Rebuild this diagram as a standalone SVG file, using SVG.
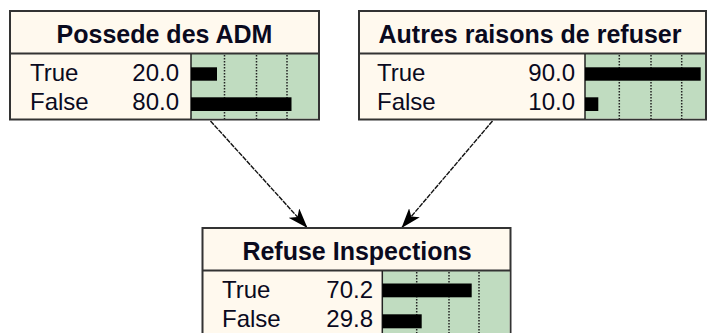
<svg xmlns="http://www.w3.org/2000/svg" width="707" height="333" viewBox="0 0 707 333">
<style>
.box{fill:#FFF9EE;stroke:#333;stroke-width:2}
.sep{stroke:#333;stroke-width:2;fill:none}
.green{fill:#C0DCC0}
.vline{stroke:#222;stroke-width:1.5}
.grid{stroke:#222;stroke-width:1.5;stroke-dasharray:1.5 1.5}
.bar{fill:#000}
.title{font-family:"Liberation Sans",Arial,sans-serif;font-weight:bold;font-size:25px;fill:#0a0a1e;text-anchor:middle}
.lbl{font-family:"Liberation Sans",Arial,sans-serif;font-size:24px;fill:#0a0a1e}
.num{font-family:"Liberation Sans",Arial,sans-serif;font-size:24px;fill:#0a0a1e;text-anchor:end}
.edge{stroke:#111;stroke-width:1.4;fill:none;stroke-dasharray:5 1}
</style>
<defs>
<marker id="ah" viewBox="0 0 20 14" refX="20" refY="7" markerWidth="20" markerHeight="14" markerUnits="userSpaceOnUse" orient="auto">
<path d="M0,0 L20,7 L0,14 L5,7 Z" fill="#000"/>
</marker>
</defs>
<rect width="707" height="333" fill="#fff"/>

<g id="connectors">
<line class="edge" x1="210.5" y1="121" x2="307.5" y2="228" marker-end="url(#ah)"/>
<line class="edge" x1="492.5" y1="121" x2="401.5" y2="228" marker-end="url(#ah)"/>
</g>

<g id="node-possede">
<rect class="box" x="10" y="11" width="309" height="108.5"/>
<rect class="green" x="191" y="54" width="127" height="64.5"/>
<line class="sep" x1="10" y1="53.5" x2="319" y2="53.5"/>
<line class="vline" x1="191" y1="54" x2="191" y2="119"/>
<line class="grid" x1="224.5" y1="55" x2="224.5" y2="119"/>
<line class="grid" x1="256.5" y1="55" x2="256.5" y2="119"/>
<line class="grid" x1="287" y1="55" x2="287" y2="119"/>
<rect class="bar" x="191" y="67.3" width="26" height="13.4"/>
<rect class="bar" x="191" y="97.3" width="100.5" height="13.7"/>
<text class="title" x="164.5" y="43">Possede des ADM</text>
<text class="lbl" x="30" y="81">True</text>
<text class="num" x="179" y="81">20.0</text>
<text class="lbl" x="30" y="110">False</text>
<text class="num" x="179" y="110">80.0</text>
</g>

<g id="node-autres">
<rect class="box" x="359" y="11" width="347" height="108.5"/>
<rect class="green" x="585" y="54" width="120" height="64.5"/>
<line class="sep" x1="359" y1="53.5" x2="706" y2="53.5"/>
<line class="vline" x1="585" y1="54" x2="585" y2="119"/>
<line class="grid" x1="619.3" y1="55" x2="619.3" y2="119"/>
<line class="grid" x1="651" y1="55" x2="651" y2="119"/>
<line class="grid" x1="681.7" y1="55" x2="681.7" y2="119"/>
<rect class="bar" x="585" y="67.3" width="115.7" height="13.4"/>
<rect class="bar" x="585" y="97.3" width="13.3" height="13.7"/>
<text class="title" x="530" y="43">Autres raisons de refuser</text>
<text class="lbl" x="377" y="81">True</text>
<text class="num" x="575" y="81">90.0</text>
<text class="lbl" x="377" y="110">False</text>
<text class="num" x="575" y="110">10.0</text>
</g>

<g id="node-refuse">
<rect class="box" x="202.5" y="228" width="308" height="112"/>
<rect class="green" x="382.3" y="271" width="127.2" height="68"/>
<line class="sep" x1="202.5" y1="270.5" x2="510.5" y2="270.5"/>
<line class="vline" x1="382.3" y1="271" x2="382.3" y2="340"/>
<line class="grid" x1="416.7" y1="272" x2="416.7" y2="340"/>
<line class="grid" x1="449" y1="272" x2="449" y2="340"/>
<line class="grid" x1="479" y1="272" x2="479" y2="340"/>
<rect class="bar" x="382.3" y="283.5" width="89.4" height="13.8"/>
<rect class="bar" x="382.3" y="314.3" width="39.4" height="14"/>
<text class="title" x="357" y="260">Refuse Inspections</text>
<text class="lbl" x="222" y="298">True</text>
<text class="num" x="373" y="298">70.2</text>
<text class="lbl" x="222" y="327">False</text>
<text class="num" x="373" y="327">29.8</text>
</g>
</svg>
